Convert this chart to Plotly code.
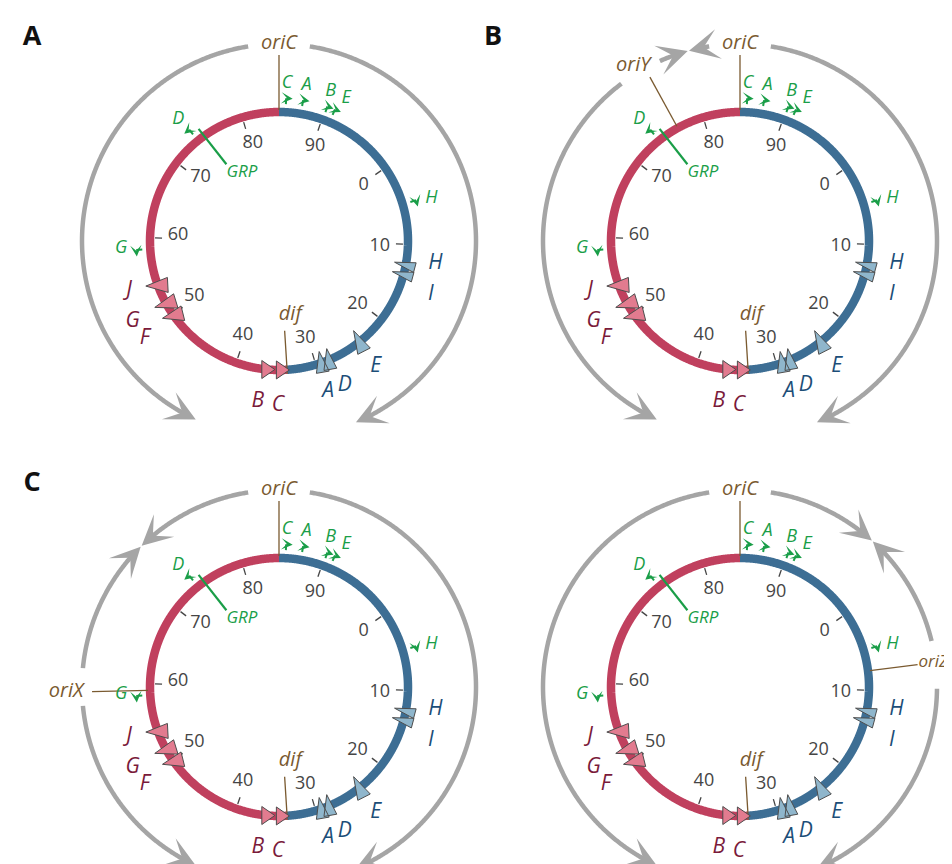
import math
import plotly.graph_objects as go

# ---------------- data (genome positions in minutes) ----------------
ORI_C_POS = 84.6
DIF_POS = 33.6
tick_values = [0, 10, 20, 30, 40, 50, 60, 70, 80, 90]
tick_labels = ["0", "10", "20", "30", "40", "50", "60", "70", "80", "90"]

rrn_names = ["C", "A", "B", "E", "H", "D", "G"]
rrn_pos = [85.4, 87.3, 90.1, 91.0, 5.0, 73.8, 58.6]
rrn_label_pos = [85.4, 87.4, 89.9, 91.6, 5.3, 73.6, 58.8]
rrn_strand = [1, 1, 1, 1, 1, -1, -1]
GRP_POS = 74.7

ter_names = ["J", "G", "F", "B", "C", "A", "D", "E", "H", "I"]
ter_pos = [54.0, 51.5, 49.8, 36.0, 34.2, 29.3, 28.3, 23.9, 12.6, 13.8]
ter_label_pos = [54.5, 51.6, 49.6, 36.7, 34.7, 29.6, 27.8, 24.2, 11.9, 15.0]

panel_letters = ["A", "B", "C", ""]
extra_ori_names = ["", "oriY", "oriX", "oriZ"]
extra_ori_pos = [None, 76.6, 59.2, 7.6]
# replication fork paths: (start, end) in degrees clockwise from oriC; arrow at end
fork_paths = [
    [(9, 157), (-9, -155)],
    [(9, 157), (-9, -15.0), (-24, -15.4), (-37, -155)],
    [(9, 157), (-9, -44.2), (-84.5, -44.6), (-95.5, -155)],
    [(-9, -155), (9, 42.0), (76.5, 42.4), (90.5, 157)],
]

# ---------------- style / layout ----------------
W, H = 952, 864
centers = [(271, 233), (732, 233), (271, 679), (732, 679)]
R_CHR = 129
R_FORK = 197
FONT = "Open Sans"
RED = "#c0405e"
BLUE = "#3d6e94"
RED_TRI = "#e27b8f"
BLUE_TRI = "#8fb6cc"
TRI_EDGE = "#4d4d4d"
RED_LAB = "#7a1a3a"
BLUE_LAB = "#1c4e78"
GREEN = "#1a9e48"
BROWN = "#7a5a30"
GRAY = "#a5a5a5"
TICK = "#454545"

ter_dir = [183, 197, 194, 0, 0, 100, 100, 117, 165, 165]
ter_len = [22, 22, 21, 13, 13, 21, 21, 23, 21, 21]
ter_wid = [15, 15, 15, 18, 18, 13, 13, 14, 10, 10]
ter_label_r = [158, 167, 166, 162, 165, 159, 159, 159, 158, 161]
extra_label_r = [0, 205, 213, 180]
extra_label_dt = [0, -2.6, 0, -0.4]
extra_label_pos = ["", "middle center", "middle center", "middle right"]
extra_line_r = [0, 187, 187, 179]


def pt(c, th, r):
    a = math.radians(th)
    return c[0] + r * math.sin(a), c[1] - r * math.cos(a)


def m2t(m):
    t = (m - ORI_C_POS) * 3.6
    return (t + 180) % 360 - 180


def arc_xy(c, t0, t1, r):
    n = max(2, int(abs(t1 - t0) * 3) + 2)
    xs, ys = [], []
    for k in range(n):
        t = t0 + (t1 - t0) * k / (n - 1)
        x, y = pt(c, t, r)
        xs.append(x)
        ys.append(y)
    return xs, ys


fig = go.Figure()
annotations = []


def add_line(xs, ys, color, width):
    fig.add_trace(go.Scatter(x=xs, y=ys, mode="lines",
                             line=dict(color=color, width=width, simplify=False),
                             hoverinfo="skip", showlegend=False))


def add_text(xs, ys, texts, color, size, pos="middle center"):
    fig.add_trace(go.Scatter(x=xs, y=ys, mode="text", text=texts, textposition=pos,
                             textfont=dict(family=FONT, size=size, color=color),
                             hoverinfo="skip", showlegend=False, cliponaxis=False))


for pi, c in enumerate(centers):
    # fork paths (gray arcs with arrowheads)
    for (t0, t1) in fork_paths[pi]:
        s = 1 if t1 > t0 else -1
        tend = t1 - s * 4
        if (tend - t0) * s > 0:
            xs, ys = arc_xy(c, t0, tend, R_FORK)
            add_line(xs, ys, GRAY, 4.5)
        hx, hy = pt(c, t1, R_FORK)
        tx, ty = pt(c, t1 - s * 4, R_FORK)
        annotations.append(dict(x=hx, y=hy, ax=tx, ay=ty, xref="x", yref="y", axref="x", ayref="y",
                                text="", showarrow=True, arrowhead=3, arrowsize=1.12,
                                arrowwidth=4.5, arrowcolor=GRAY, standoff=0))

    # chromosome
    t_dif = m2t(DIF_POS) % 360
    xs, ys = arc_xy(c, t_dif, 360, R_CHR)
    add_line(xs, ys, RED, 8.5)
    xs, ys = arc_xy(c, 0, t_dif, R_CHR)
    add_line(xs, ys, BLUE, 8.5)

    # ticks
    tx, ty = [], []
    lx, ly = [], []
    for v in tick_values:
        t = m2t(v)
        x0, y0 = pt(c, t, 124)
        x1, y1 = pt(c, t, 117)
        tx += [x0, x1, None]
        ty += [y0, y1, None]
        x2, y2 = pt(c, t + 1.5, 101)
        lx.append(x2)
        ly.append(y2)
    add_line(tx, ty, TICK, 1.3)
    add_text(lx, ly, tick_labels, TICK, 18)

    # oriC
    x0, y0 = pt(c, 0, 131)
    x1, y1 = pt(c, 0, 186)
    add_line([x0, x1], [y0, y1], BROWN, 1.3)
    ox, oy = pt(c, 0, 197)
    add_text([ox], [oy], ["<i>oriC</i>"], BROWN, 20)

    # dif
    td = m2t(DIF_POS)
    x0, y0 = pt(c, td, 90)
    x1, y1 = pt(c, td, 133)
    add_line([x0, x1], [y0, y1], BROWN, 1.3)
    dx, dy = pt(c, td - 5, 75)
    add_text([dx], [dy], ["<i>dif</i>"], BROWN, 20)

    # extra origin
    if extra_ori_pos[pi] is not None:
        t = m2t(extra_ori_pos[pi])
        x0, y0 = pt(c, t, 131)
        x1, y1 = pt(c, t, extra_line_r[pi])
        add_line([x0, x1], [y0, y1], BROWN, 1.3)
        ex, ey = pt(c, t + extra_label_dt[pi], extra_label_r[pi])
        add_text([ex], [ey], ["<i>%s</i>" % extra_ori_names[pi]], BROWN,
                 17 if extra_label_pos[pi] == "middle right" else 20, extra_label_pos[pi])

    # GRP
    tg = m2t(GRP_POS)
    x0, y0 = pt(c, tg, 138)
    x1, y1 = pt(c, tg + 1.2, 93)
    add_line([x0, x1], [y0, y1], GREEN, 2.2)
    add_text([x1], [y1], ["<i>GRP</i>"], GREEN, 17, "bottom right")

    # rrn operons
    sx, sy = [], []
    rlx, rly = [], []
    for name, m, ml, st in zip(rrn_names, rrn_pos, rrn_label_pos, rrn_strand):
        t = m2t(m)
        a0 = pt(c, t, 137)
        a1 = pt(c, t, 143)
        sx += [a0[0], a1[0], None]
        sy += [a0[1], a1[1], None]
        hx, hy = pt(c, t + st * 2.6, 143)
        annotations.append(dict(x=hx, y=hy, ax=a1[0], ay=a1[1], xref="x", yref="y",
                                axref="x", ayref="y", text="", showarrow=True, arrowhead=3,
                                arrowsize=1.05, arrowwidth=1.8, arrowcolor=GREEN, standoff=0))
        lxx, lyy = pt(c, m2t(ml), 158)
        rlx.append(lxx)
        rly.append(lyy)
    add_line(sx, sy, GREEN, 2)
    add_text(rlx, rly, ["<i>%s</i>" % n for n in rrn_names], GREEN, 18)

    # Ter sites
    polys = {"red": ([], []), "blue": ([], [])}
    labs = {"red": ([], [], []), "blue": ([], [], [])}
    for name, m, ml, a_deg, L, Wd, lr in zip(ter_names, ter_pos, ter_label_pos, ter_dir,
                                           ter_len, ter_wid, ter_label_r):
        side = "red" if DIF_POS < m < ORI_C_POS else "blue"
        px, py = pt(c, m2t(m), R_CHR)
        a = math.radians(a_deg)
        ux, uy = math.cos(a), -math.sin(a)
        nx, ny = -uy, ux
        apex = (px + ux * L * 0.55, py + uy * L * 0.55)
        bx, by = px - ux * L * 0.45, py - uy * L * 0.45
        b1 = (bx + nx * Wd / 2, by + ny * Wd / 2)
        b2 = (bx - nx * Wd / 2, by - ny * Wd / 2)
        X, Y = polys[side]
        X += [apex[0], b1[0], b2[0], apex[0], None]
        Y += [apex[1], b1[1], b2[1], apex[1], None]
        lxx, lyy = pt(c, m2t(ml), lr)
        labs[side][0].append(lxx)
        labs[side][1].append(lyy)
        labs[side][2].append("<i>%s</i>" % name)
    for side, fc in (("red", RED_TRI), ("blue", BLUE_TRI)):
        X, Y = polys[side]
        fig.add_trace(go.Scatter(x=X, y=Y, mode="lines", fill="toself", fillcolor=fc,
                                 line=dict(color=TRI_EDGE, width=1), hoverinfo="skip",
                                 showlegend=False))
    add_text(*labs["red"], RED_LAB, 21)
    add_text(*labs["blue"], BLUE_LAB, 21)

    # panel letter
    if panel_letters[pi]:
        add_text([c[0] - 247], [c[1] - 203], ["<b>%s</b>" % panel_letters[pi]], "#111111", 27)

fig.update_layout(
    width=W, height=H, margin=dict(l=0, r=0, t=0, b=0),
    paper_bgcolor="white", plot_bgcolor="white", showlegend=False,
    xaxis=dict(range=[0, W], visible=False, fixedrange=True),
    yaxis=dict(range=[H, 0], visible=False, fixedrange=True),
    annotations=annotations,
)
fig.write_html("out.html")
